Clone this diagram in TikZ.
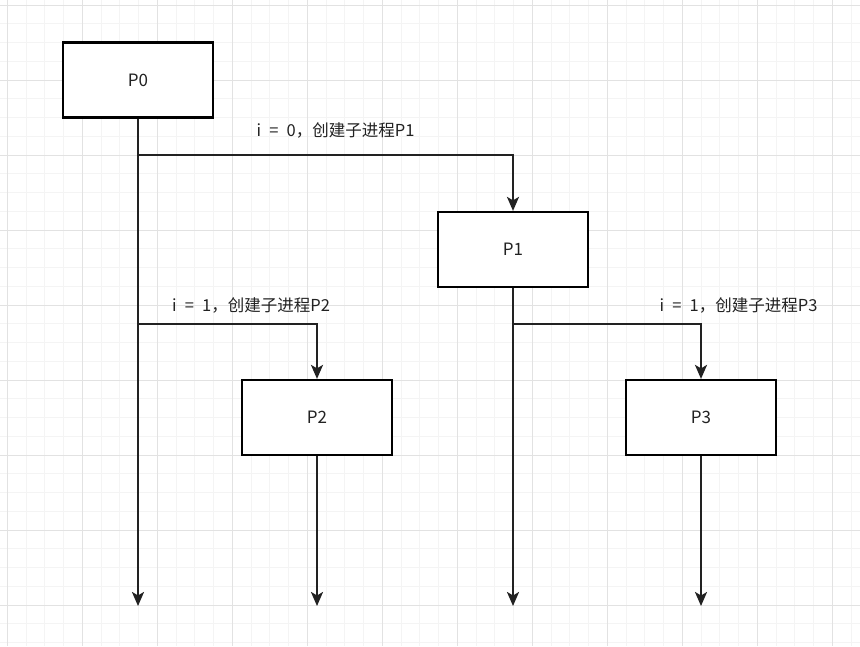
\documentclass[tikz,border=0pt]{standalone}
\usepackage{fontspec}
\setmainfont{Noto Sans CJK SC}
\usetikzlibrary{arrows.meta}
\definecolor{minorgrid}{HTML}{F4F4F4}
\definecolor{majorgrid}{HTML}{E2E2E2}
\definecolor{ink}{HTML}{222222}
\newcommand{\eqsp}{\hspace{0.5em}}
\begin{document}
\begin{tikzpicture}[x=1pt,y=-1pt,
  proc/.style={draw=black,line width=2.2pt,fill=white,minimum width=150pt,minimum height=75pt,inner sep=0pt,font=\fontsize{17}{19}\selectfont,text=ink},
  flow/.style={draw=ink,line width=2.2pt,-{Stealth[length=14pt,width=12pt,inset=3.5pt]}},
  lab/.style={font=\fontsize{16.5}{19}\selectfont,text=ink,inner sep=0pt}]
\useasboundingbox (0,0) rectangle (860,646);
\fill[white] (0,0) rectangle (860,646);
\foreach \x in {7.3,26.05,...,860} \draw[minorgrid,line width=0.8pt] (\x,0) -- (\x,646);
\foreach \y in {5,23.75,...,646} \draw[minorgrid,line width=0.8pt] (0,\y) -- (860,\y);
\foreach \x in {7.3,82.3,...,860} \draw[majorgrid,line width=0.8pt] (\x,0) -- (\x,646);
\foreach \y in {5,80,...,646} \draw[majorgrid,line width=0.8pt] (0,\y) -- (860,\y);

\node[proc] (p0) at (138,80) {P0};
\node[proc] (p1) at (513,249.5) {P1};
\node[proc] (p2) at (317,417.5) {P2};
\node[proc] (p3) at (701,417.5) {P3};

\coordinate (e0) at (138,606);
\coordinate (e1) at (513,606);
\coordinate (e2) at (317,606);
\coordinate (e3) at (701,606);
\coordinate (b01) at (138,155);
\coordinate (b02) at (138,324);
\coordinate (b13) at (513,324);

\draw[flow] (p0.south) -- (e0);
\draw[flow] (b01) -| (p1.north);
\draw[flow] (b02) -| (p2.north);
\draw[flow] (p1.south) -- (e1);
\draw[flow] (b13) -| (p3.north);
\draw[flow] (p2.south) -- (e2);
\draw[flow] (p3.south) -- (e3);

\node[lab] (l1) at (335.5,130) {i\eqsp=\eqsp0，创建子进程P1};
\node[lab] (l2) at (251,305) {i\eqsp=\eqsp1，创建子进程P2};
\node[lab] (l3) at (738.5,305) {i\eqsp=\eqsp1，创建子进程P3};
\end{tikzpicture}
\end{document}
